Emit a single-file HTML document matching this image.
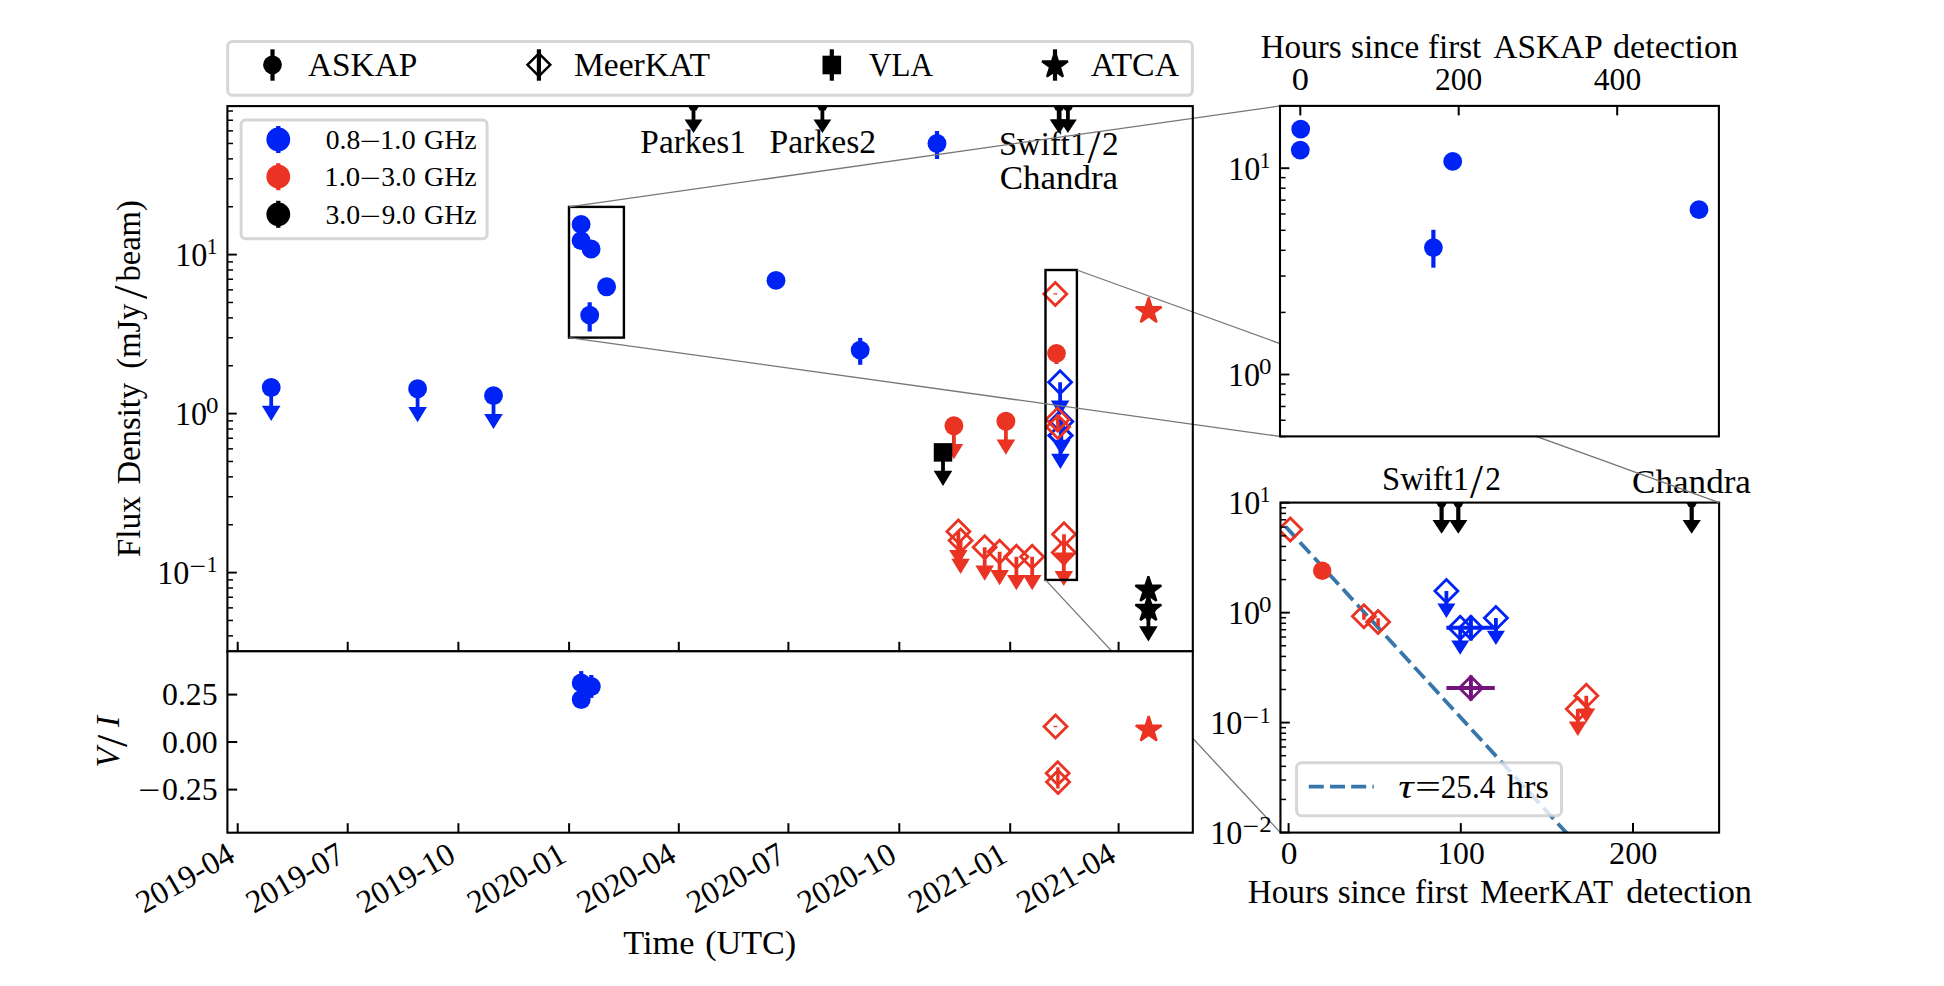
<!DOCTYPE html>
<html lang="en"><head><meta charset="utf-8"><title>Radio light curve</title>
<style>html,body{margin:0;padding:0;background:#fff;overflow:hidden;}svg{display:block;}</style></head>
<body>
<svg width="1944" height="986" viewBox="0 0 1944 986" font-family="'Liberation Serif', 'DejaVu Serif', serif">
<rect x="0" y="0" width="1944" height="986" fill="#ffffff"/>
<g id="main">
<clipPath id="cm"><rect x="227.4" y="106.1" width="965.4" height="545.1999999999999"/></clipPath>
<g clip-path="url(#cm)">
<path d="M688 106.1L699 106.1L696.5 110.6L690.5 110.6Z" fill="#000000"/>
<line x1="693.5" y1="106.1" x2="693.5" y2="120.5" stroke="#000000" stroke-width="3.8" />
<path d="M684.6 119.5L702.4 119.5L693.5 133Z" fill="#000000"/>
<path d="M816.9 106.1L827.9 106.1L825.4 110.6L819.4 110.6Z" fill="#000000"/>
<line x1="822.4" y1="106.1" x2="822.4" y2="120.5" stroke="#000000" stroke-width="3.8" />
<path d="M813.5 119.5L831.3 119.5L822.4 133Z" fill="#000000"/>
<path d="M1053.2 106.1L1064.2 106.1L1061.7 110.6L1055.7 110.6Z" fill="#000000"/>
<line x1="1058.7" y1="106.1" x2="1058.7" y2="120.5" stroke="#000000" stroke-width="3.8" />
<path d="M1049.8 119.5L1067.6 119.5L1058.7 133Z" fill="#000000"/>
<path d="M1054.1 106.1L1065.1 106.1L1062.6 110.6L1056.6 110.6Z" fill="#000000"/>
<line x1="1059.6" y1="106.1" x2="1059.6" y2="120.5" stroke="#000000" stroke-width="3.8" />
<path d="M1050.7 119.5L1068.5 119.5L1059.6 133Z" fill="#000000"/>
<path d="M1062.4 106.1L1073.4 106.1L1070.9 110.6L1064.9 110.6Z" fill="#000000"/>
<line x1="1067.9" y1="106.1" x2="1067.9" y2="120.5" stroke="#000000" stroke-width="3.8" />
<path d="M1059 119.5L1076.8 119.5L1067.9 133Z" fill="#000000"/>
<line x1="271.2" y1="387.5" x2="271.2" y2="406.8" stroke="#0023F5" stroke-width="3.8" />
<path d="M261.9 405.8L280.5 405.8L271.2 421Z" fill="#0023F5"/>
<circle cx="271.2" cy="387.5" r="9.45" fill="#0023F5"/>
<line x1="417.6" y1="388.7" x2="417.6" y2="408" stroke="#0023F5" stroke-width="3.8" />
<path d="M408.3 407L426.9 407L417.6 422.2Z" fill="#0023F5"/>
<circle cx="417.6" cy="388.7" r="9.45" fill="#0023F5"/>
<line x1="493.5" y1="395.6" x2="493.5" y2="414.9" stroke="#0023F5" stroke-width="3.8" />
<path d="M484.2 413.9L502.8 413.9L493.5 429.1Z" fill="#0023F5"/>
<circle cx="493.5" cy="395.6" r="9.45" fill="#0023F5"/>
<line x1="589.7" y1="302.3" x2="589.7" y2="331.5" stroke="#0023F5" stroke-width="4.2" />
<circle cx="581.1" cy="224.4" r="9.45" fill="#0023F5"/>
<circle cx="581.1" cy="240.6" r="9.45" fill="#0023F5"/>
<circle cx="591.1" cy="249" r="9.45" fill="#0023F5"/>
<circle cx="606.6" cy="286.8" r="9.45" fill="#0023F5"/>
<circle cx="589.7" cy="315.1" r="9.45" fill="#0023F5"/>
<circle cx="776" cy="280.4" r="9.45" fill="#0023F5"/>
<line x1="860.2" y1="337.9" x2="860.2" y2="364.8" stroke="#0023F5" stroke-width="4.2" />
<circle cx="860.2" cy="350.1" r="9.45" fill="#0023F5"/>
<line x1="937" y1="130.9" x2="937" y2="159" stroke="#0023F5" stroke-width="4.2" />
<circle cx="937" cy="143.5" r="9.45" fill="#0023F5"/>
<line x1="953.9" y1="425.7" x2="953.9" y2="445" stroke="#EA3323" stroke-width="3.8" />
<path d="M944.6 444L963.2 444L953.9 459.2Z" fill="#EA3323"/>
<circle cx="953.9" cy="425.7" r="9.45" fill="#EA3323"/>
<line x1="1005.9" y1="421.2" x2="1005.9" y2="440.5" stroke="#EA3323" stroke-width="3.8" />
<path d="M996.6 439.5L1015.2 439.5L1005.9 454.7Z" fill="#EA3323"/>
<circle cx="1005.9" cy="421.2" r="9.45" fill="#EA3323"/>
<line x1="943" y1="452.4" x2="943" y2="471.7" stroke="#000000" stroke-width="3.8" />
<path d="M933.7 470.7L952.3 470.7L943 485.9Z" fill="#000000"/>
<rect x="933.75" y="443.15" width="18.5" height="18.5" fill="#000000"/>
<line x1="958.4" y1="531.6" x2="958.4" y2="550.9" stroke="#EA3323" stroke-width="3.8" />
<path d="M949.1 549.9L967.7 549.9L958.4 565.1Z" fill="#EA3323"/>
<path d="M958.4 520.1L969.9 531.6L958.4 543.1L946.9 531.6Z" fill="none" stroke="#EA3323" stroke-width="2.8" stroke-linejoin="miter"/>
<line x1="960.6" y1="540.5" x2="960.6" y2="559.8" stroke="#EA3323" stroke-width="3.8" />
<path d="M951.3 558.8L969.9 558.8L960.6 574Z" fill="#EA3323"/>
<path d="M960.6 529L972.1 540.5L960.6 552L949.1 540.5Z" fill="none" stroke="#EA3323" stroke-width="2.8" stroke-linejoin="miter"/>
<line x1="984.7" y1="547.2" x2="984.7" y2="566.5" stroke="#EA3323" stroke-width="3.8" />
<path d="M975.4 565.5L994 565.5L984.7 580.7Z" fill="#EA3323"/>
<path d="M984.7 535.7L996.2 547.2L984.7 558.7L973.2 547.2Z" fill="none" stroke="#EA3323" stroke-width="2.8" stroke-linejoin="miter"/>
<line x1="999.6" y1="551.7" x2="999.6" y2="571" stroke="#EA3323" stroke-width="3.8" />
<path d="M990.3 570L1008.9 570L999.6 585.2Z" fill="#EA3323"/>
<path d="M999.6 540.2L1011.1 551.7L999.6 563.2L988.1 551.7Z" fill="none" stroke="#EA3323" stroke-width="2.8" stroke-linejoin="miter"/>
<line x1="1016.4" y1="556.8" x2="1016.4" y2="576.1" stroke="#EA3323" stroke-width="3.8" />
<path d="M1007.1 575.1L1025.7 575.1L1016.4 590.3Z" fill="#EA3323"/>
<path d="M1016.4 545.3L1027.9 556.8L1016.4 568.3L1004.9 556.8Z" fill="none" stroke="#EA3323" stroke-width="2.8" stroke-linejoin="miter"/>
<line x1="1032.2" y1="556.8" x2="1032.2" y2="576.1" stroke="#EA3323" stroke-width="3.8" />
<path d="M1022.9 575.1L1041.5 575.1L1032.2 590.3Z" fill="#EA3323"/>
<path d="M1032.2 545.3L1043.7 556.8L1032.2 568.3L1020.7 556.8Z" fill="none" stroke="#EA3323" stroke-width="2.8" stroke-linejoin="miter"/>
<line x1="1064" y1="534.2" x2="1064" y2="553.5" stroke="#EA3323" stroke-width="3.8" />
<path d="M1054.7 552.5L1073.3 552.5L1064 567.7Z" fill="#EA3323"/>
<path d="M1064 522.7L1075.5 534.2L1064 545.7L1052.5 534.2Z" fill="none" stroke="#EA3323" stroke-width="2.8" stroke-linejoin="miter"/>
<line x1="1063.8" y1="552.6" x2="1063.8" y2="571.9" stroke="#EA3323" stroke-width="3.8" />
<path d="M1054.5 570.9L1073.1 570.9L1063.8 586.1Z" fill="#EA3323"/>
<path d="M1063.8 541.1L1075.3 552.6L1063.8 564.1L1052.3 552.6Z" fill="none" stroke="#EA3323" stroke-width="2.8" stroke-linejoin="miter"/>
<path d="M1055.3 282.4L1066.8 293.9L1055.3 305.4L1043.8 293.9Z" fill="none" stroke="#EA3323" stroke-width="2.8" stroke-linejoin="miter"/>
<line x1="1053.5" y1="293.9" x2="1057.3" y2="293.9" stroke="#EA3323" stroke-width="1.3" />
<line x1="1056.5" y1="345" x2="1056.5" y2="363.9" stroke="#EA3323" stroke-width="4.2" />
<circle cx="1056.5" cy="353.3" r="9.35" fill="#EA3323"/>
<line x1="1060.1" y1="382.3" x2="1060.1" y2="401.6" stroke="#0023F5" stroke-width="3.8" />
<path d="M1050.8 400.6L1069.4 400.6L1060.1 415.8Z" fill="#0023F5"/>
<path d="M1060.1 370.8L1071.6 382.3L1060.1 393.8L1048.6 382.3Z" fill="none" stroke="#0023F5" stroke-width="2.8" stroke-linejoin="miter"/>
<line x1="1061.3" y1="421.4" x2="1061.3" y2="440.7" stroke="#0023F5" stroke-width="3.8" />
<path d="M1052 439.7L1070.6 439.7L1061.3 454.9Z" fill="#0023F5"/>
<path d="M1061.3 409.9L1072.8 421.4L1061.3 432.9L1049.8 421.4Z" fill="none" stroke="#0023F5" stroke-width="2.8" stroke-linejoin="miter"/>
<line x1="1060.4" y1="435.4" x2="1060.4" y2="454.7" stroke="#0023F5" stroke-width="3.8" />
<path d="M1051.1 453.7L1069.7 453.7L1060.4 468.9Z" fill="#0023F5"/>
<path d="M1060.4 423.9L1071.9 435.4L1060.4 446.9L1048.9 435.4Z" fill="none" stroke="#0023F5" stroke-width="2.8" stroke-linejoin="miter"/>
<line x1="1060.7" y1="418.5" x2="1060.7" y2="452.5" stroke="#0023F5" stroke-width="3.6" />
<path d="M1060.7 423.9L1072.2 435.4L1060.7 446.9L1049.2 435.4Z" fill="none" stroke="#0023F5" stroke-width="2.8" stroke-linejoin="miter"/>
<line x1="1057.6" y1="414.5" x2="1057.6" y2="424.5" stroke="#EA3323" stroke-width="3.4" />
<path d="M1057.6 407.9L1069.1 419.4L1057.6 430.9L1046.1 419.4Z" fill="none" stroke="#EA3323" stroke-width="2.8" stroke-linejoin="miter"/>
<line x1="1058" y1="422.5" x2="1058" y2="432" stroke="#EA3323" stroke-width="3.4" />
<path d="M1058 415.5L1069.5 427L1058 438.5L1046.5 427Z" fill="none" stroke="#EA3323" stroke-width="2.8" stroke-linejoin="miter"/>
<polygon points="1148.7,297.6 1151.75,307 1161.63,307 1153.64,312.81 1156.69,322.2 1148.7,316.39 1140.71,322.2 1143.76,312.81 1135.77,307 1145.65,307" fill="#EA3323" stroke="#EA3323" stroke-width="2.2" stroke-linejoin="bevel"/>
<line x1="1148.4" y1="589.5" x2="1148.4" y2="608.8" stroke="#000000" stroke-width="3.8" />
<path d="M1139.1 607.8L1157.7 607.8L1148.4 623Z" fill="#000000"/>
<polygon points="1148.4,576.3 1151.45,585.7 1161.33,585.7 1153.34,591.51 1156.39,600.9 1148.4,595.09 1140.41,600.9 1143.46,591.51 1135.47,585.7 1145.35,585.7" fill="#000000" stroke="#000000" stroke-width="2.2" stroke-linejoin="bevel"/>
<line x1="1148.4" y1="608" x2="1148.4" y2="627.3" stroke="#000000" stroke-width="3.8" />
<path d="M1139.1 626.3L1157.7 626.3L1148.4 641.5Z" fill="#000000"/>
<polygon points="1148.4,595.5 1151.45,604.9 1161.33,604.9 1153.34,610.71 1156.39,620.1 1148.4,614.29 1140.41,620.1 1143.46,610.71 1135.47,604.9 1145.35,604.9" fill="#000000" stroke="#000000" stroke-width="2.2" stroke-linejoin="bevel"/>
</g>
<rect x="569" y="206.9" width="54.9" height="130.7" fill="none" stroke="#000000" stroke-width="2.4"/>
<rect x="1045.5" y="270" width="31.4" height="309.9" fill="none" stroke="#000000" stroke-width="2.4"/>
<text x="640.38" y="153.4" font-size="33" textLength="105.55" lengthAdjust="spacingAndGlyphs" fill="#000000">Parkes1</text>
<text x="769.57" y="153.4" font-size="33" textLength="106.51" lengthAdjust="spacingAndGlyphs" fill="#000000">Parkes2</text>
<text font-size="33"><tspan x="998.89" y="154.6" textLength="87.47" lengthAdjust="spacingAndGlyphs">Swift1</tspan><tspan x="1101.99" y="154.6" textLength="16.65" lengthAdjust="spacingAndGlyphs">2</tspan></text>
<text x="1087.5" y="162.5" font-size="47.5" textLength="13.12" lengthAdjust="spacingAndGlyphs" fill="#000000">/</text>
<text x="999.7" y="189" font-size="33" textLength="118.34" lengthAdjust="spacingAndGlyphs" fill="#000000">Chandra</text>
<rect x="241.1" y="120" width="246" height="118.8" rx="4.5" ry="4.5" fill="#ffffff" fill-opacity="0.8" stroke="#cccccc" stroke-opacity="0.8" stroke-width="3"/>
<line x1="278.3" y1="126" x2="278.3" y2="153" stroke="#0023F5" stroke-width="4.3" />
<circle cx="278.3" cy="139.5" r="11.9" fill="#0023F5"/>
<text font-size="26.5"><tspan x="325.77" y="148.6" textLength="34.47" lengthAdjust="spacingAndGlyphs">0.8</tspan><tspan x="380.11" y="148.6" textLength="35.56" lengthAdjust="spacingAndGlyphs">1.0</tspan><tspan x="424.09" y="148.6" textLength="52.6" lengthAdjust="spacingAndGlyphs">GHz</tspan></text>
<text x="359.93" y="149.5" font-size="26.5" textLength="21.1" lengthAdjust="spacingAndGlyphs" fill="#000000">−</text>
<line x1="278.3" y1="163.2" x2="278.3" y2="190.2" stroke="#EA3323" stroke-width="4.3" />
<circle cx="278.3" cy="176.7" r="11.9" fill="#EA3323"/>
<text font-size="26.5"><tspan x="324.28" y="186" textLength="36" lengthAdjust="spacingAndGlyphs">1.0</tspan><tspan x="381.3" y="186" textLength="34.33" lengthAdjust="spacingAndGlyphs">3.0</tspan><tspan x="424.09" y="186" textLength="52.6" lengthAdjust="spacingAndGlyphs">GHz</tspan></text>
<text x="359.93" y="186.9" font-size="26.5" textLength="21.1" lengthAdjust="spacingAndGlyphs" fill="#000000">−</text>
<line x1="278.3" y1="200.8" x2="278.3" y2="227.8" stroke="#000000" stroke-width="4.3" />
<circle cx="278.3" cy="214.3" r="11.9" fill="#000000"/>
<text font-size="26.5"><tspan x="325.48" y="223.6" textLength="34.76" lengthAdjust="spacingAndGlyphs">3.0</tspan><tspan x="381.72" y="223.6" textLength="33.9" lengthAdjust="spacingAndGlyphs">9.0</tspan><tspan x="424.09" y="223.6" textLength="52.6" lengthAdjust="spacingAndGlyphs">GHz</tspan></text>
<text x="359.93" y="224.5" font-size="26.5" textLength="21.1" lengthAdjust="spacingAndGlyphs" fill="#000000">−</text>
</g>
<line x1="569" y1="206.9" x2="1280" y2="105.9" stroke="#767676" stroke-width="1.3" />
<line x1="569" y1="337.6" x2="1280" y2="436.4" stroke="#767676" stroke-width="1.3" />
<line x1="1076.9" y1="270" x2="1600" y2="459.46" stroke="#767676" stroke-width="1.3" />
<line x1="1045.5" y1="579.9" x2="1280.45" y2="832.6" stroke="#767676" stroke-width="1.3" />
<line x1="227.4" y1="635.87" x2="233" y2="635.87" stroke="#000000" stroke-width="1.5" />
<line x1="227.4" y1="620.46" x2="233" y2="620.46" stroke="#000000" stroke-width="1.5" />
<line x1="227.4" y1="607.87" x2="233" y2="607.87" stroke="#000000" stroke-width="1.5" />
<line x1="227.4" y1="597.23" x2="233" y2="597.23" stroke="#000000" stroke-width="1.5" />
<line x1="227.4" y1="588.01" x2="233" y2="588.01" stroke="#000000" stroke-width="1.5" />
<line x1="227.4" y1="579.88" x2="233" y2="579.88" stroke="#000000" stroke-width="1.5" />
<line x1="227.4" y1="572.6" x2="236.8" y2="572.6" stroke="#000000" stroke-width="1.9" />
<line x1="227.4" y1="524.74" x2="233" y2="524.74" stroke="#000000" stroke-width="1.5" />
<line x1="227.4" y1="496.74" x2="233" y2="496.74" stroke="#000000" stroke-width="1.5" />
<line x1="227.4" y1="476.87" x2="233" y2="476.87" stroke="#000000" stroke-width="1.5" />
<line x1="227.4" y1="461.46" x2="233" y2="461.46" stroke="#000000" stroke-width="1.5" />
<line x1="227.4" y1="448.87" x2="233" y2="448.87" stroke="#000000" stroke-width="1.5" />
<line x1="227.4" y1="438.23" x2="233" y2="438.23" stroke="#000000" stroke-width="1.5" />
<line x1="227.4" y1="429.01" x2="233" y2="429.01" stroke="#000000" stroke-width="1.5" />
<line x1="227.4" y1="420.88" x2="233" y2="420.88" stroke="#000000" stroke-width="1.5" />
<line x1="227.4" y1="413.6" x2="236.8" y2="413.6" stroke="#000000" stroke-width="1.9" />
<line x1="227.4" y1="365.74" x2="233" y2="365.74" stroke="#000000" stroke-width="1.5" />
<line x1="227.4" y1="337.74" x2="233" y2="337.74" stroke="#000000" stroke-width="1.5" />
<line x1="227.4" y1="317.87" x2="233" y2="317.87" stroke="#000000" stroke-width="1.5" />
<line x1="227.4" y1="302.46" x2="233" y2="302.46" stroke="#000000" stroke-width="1.5" />
<line x1="227.4" y1="289.87" x2="233" y2="289.87" stroke="#000000" stroke-width="1.5" />
<line x1="227.4" y1="279.23" x2="233" y2="279.23" stroke="#000000" stroke-width="1.5" />
<line x1="227.4" y1="270.01" x2="233" y2="270.01" stroke="#000000" stroke-width="1.5" />
<line x1="227.4" y1="261.88" x2="233" y2="261.88" stroke="#000000" stroke-width="1.5" />
<line x1="227.4" y1="254.6" x2="236.8" y2="254.6" stroke="#000000" stroke-width="1.9" />
<line x1="227.4" y1="206.74" x2="233" y2="206.74" stroke="#000000" stroke-width="1.5" />
<line x1="227.4" y1="178.74" x2="233" y2="178.74" stroke="#000000" stroke-width="1.5" />
<line x1="227.4" y1="158.87" x2="233" y2="158.87" stroke="#000000" stroke-width="1.5" />
<line x1="227.4" y1="143.46" x2="233" y2="143.46" stroke="#000000" stroke-width="1.5" />
<line x1="227.4" y1="130.87" x2="233" y2="130.87" stroke="#000000" stroke-width="1.5" />
<line x1="227.4" y1="120.23" x2="233" y2="120.23" stroke="#000000" stroke-width="1.5" />
<line x1="227.4" y1="111.01" x2="233" y2="111.01" stroke="#000000" stroke-width="1.5" />
<line x1="237.7" y1="651.3" x2="237.7" y2="641.8" stroke="#000000" stroke-width="2" />
<line x1="347.7" y1="651.3" x2="347.7" y2="641.8" stroke="#000000" stroke-width="2" />
<line x1="458.4" y1="651.3" x2="458.4" y2="641.8" stroke="#000000" stroke-width="2" />
<line x1="569.1" y1="651.3" x2="569.1" y2="641.8" stroke="#000000" stroke-width="2" />
<line x1="678.8" y1="651.3" x2="678.8" y2="641.8" stroke="#000000" stroke-width="2" />
<line x1="788.4" y1="651.3" x2="788.4" y2="641.8" stroke="#000000" stroke-width="2" />
<line x1="899.3" y1="651.3" x2="899.3" y2="641.8" stroke="#000000" stroke-width="2" />
<line x1="1010.2" y1="651.3" x2="1010.2" y2="641.8" stroke="#000000" stroke-width="2" />
<line x1="1118.6" y1="651.3" x2="1118.6" y2="641.8" stroke="#000000" stroke-width="2" />
<rect x="227.4" y="106.1" width="965.4" height="545.2" fill="none" stroke="#000000" stroke-width="2.1"/>
<text x="206.81" y="254.3" font-size="23" textLength="10.78" lengthAdjust="spacingAndGlyphs" fill="#000000">1</text>
<text x="175.19" y="266" font-size="33" textLength="32.11" lengthAdjust="spacingAndGlyphs" fill="#000000">10</text>
<text x="205.96" y="413.3" font-size="23" textLength="12.47" lengthAdjust="spacingAndGlyphs" fill="#000000">0</text>
<text x="174.89" y="425" font-size="33" textLength="32.11" lengthAdjust="spacingAndGlyphs" fill="#000000">10</text>
<text x="206.81" y="572.3" font-size="23" textLength="10.78" lengthAdjust="spacingAndGlyphs" fill="#000000">1</text>
<text x="189.53" y="574.3" font-size="23" textLength="16.62" lengthAdjust="spacingAndGlyphs" fill="#000000">−</text>
<text x="157.29" y="584" font-size="33" textLength="32.11" lengthAdjust="spacingAndGlyphs" fill="#000000">10</text>
<text transform="translate(139.7 556.4) rotate(-90)" font-size="33"><tspan x="-0.92" y="0" textLength="61.1" lengthAdjust="spacingAndGlyphs">Flux</tspan><tspan x="71.8" y="0" textLength="101.81" lengthAdjust="spacingAndGlyphs">Density</tspan><tspan x="187.72" y="0" textLength="65.07" lengthAdjust="spacingAndGlyphs">(mJy</tspan><tspan x="274.8" y="0" textLength="81.42" lengthAdjust="spacingAndGlyphs">beam)</tspan></text>
<text transform="translate(139.7 556.4) rotate(-90)" x="257.5" y="7.6" font-size="47.5" textLength="13.52" lengthAdjust="spacingAndGlyphs">/</text>
<g id="lower">
<rect x="227.4" y="651.3" width="965.4" height="181.4" fill="#ffffff" stroke="#000000" stroke-width="2.1"/>
<line x1="237.7" y1="832.7" x2="237.7" y2="823.2" stroke="#000000" stroke-width="2" />
<line x1="347.7" y1="832.7" x2="347.7" y2="823.2" stroke="#000000" stroke-width="2" />
<line x1="458.4" y1="832.7" x2="458.4" y2="823.2" stroke="#000000" stroke-width="2" />
<line x1="569.1" y1="832.7" x2="569.1" y2="823.2" stroke="#000000" stroke-width="2" />
<line x1="678.8" y1="832.7" x2="678.8" y2="823.2" stroke="#000000" stroke-width="2" />
<line x1="788.4" y1="832.7" x2="788.4" y2="823.2" stroke="#000000" stroke-width="2" />
<line x1="899.3" y1="832.7" x2="899.3" y2="823.2" stroke="#000000" stroke-width="2" />
<line x1="1010.2" y1="832.7" x2="1010.2" y2="823.2" stroke="#000000" stroke-width="2" />
<line x1="1118.6" y1="832.7" x2="1118.6" y2="823.2" stroke="#000000" stroke-width="2" />
<line x1="227.4" y1="694.6" x2="237.2" y2="694.6" stroke="#000000" stroke-width="2" />
<line x1="227.4" y1="742" x2="237.2" y2="742" stroke="#000000" stroke-width="2" />
<line x1="227.4" y1="789.6" x2="237.2" y2="789.6" stroke="#000000" stroke-width="2" />
<text x="162.01" y="705.3" font-size="32.5" textLength="55.67" lengthAdjust="spacingAndGlyphs" fill="#000000">0.25</text>
<text x="162.01" y="753" font-size="32.5" textLength="55.58" lengthAdjust="spacingAndGlyphs" fill="#000000">0.00</text>
<text x="162.01" y="800.3" font-size="32.5" textLength="55.67" lengthAdjust="spacingAndGlyphs" fill="#000000">0.25</text>
<text x="137.94" y="801.3" font-size="32.5" textLength="22.07" lengthAdjust="spacingAndGlyphs" fill="#000000">−</text>
<text transform="translate(119.2 766.1) rotate(-90)" font-style="italic" font-size="33"><tspan x="-1.5" textLength="20" lengthAdjust="spacingAndGlyphs">V</tspan><tspan x="19" y="7.5" font-size="44" font-style="normal">/</tspan><tspan x="39" y="0">I</tspan></text>
<line x1="581.2" y1="671.1" x2="581.2" y2="694.7" stroke="#0023F5" stroke-width="4.2" />
<line x1="591.3" y1="675" x2="591.3" y2="697.9" stroke="#0023F5" stroke-width="4.2" />
<circle cx="581.2" cy="682.9" r="9.45" fill="#0023F5"/>
<circle cx="591.3" cy="686.5" r="9.45" fill="#0023F5"/>
<circle cx="581.2" cy="699.5" r="9.45" fill="#0023F5"/>
<path d="M1055.5 715L1067 726.5L1055.5 738L1044 726.5Z" fill="none" stroke="#EA3323" stroke-width="2.8" stroke-linejoin="miter"/>
<line x1="1053.5" y1="726.5" x2="1057.5" y2="726.5" stroke="#EA3323" stroke-width="1.3" />
<line x1="1057.9" y1="767.3" x2="1057.9" y2="788.5" stroke="#EA3323" stroke-width="3.4" />
<path d="M1057.7 761.8L1069.2 773.3L1057.7 784.8L1046.2 773.3Z" fill="none" stroke="#EA3323" stroke-width="2.8" stroke-linejoin="miter"/>
<path d="M1058.1 770.6L1069.6 782.1L1058.1 793.6L1046.6 782.1Z" fill="none" stroke="#EA3323" stroke-width="2.8" stroke-linejoin="miter"/>
<polygon points="1148.7,716.1 1151.75,725.5 1161.63,725.5 1153.64,731.31 1156.69,740.7 1148.7,734.89 1140.71,740.7 1143.76,731.31 1135.77,725.5 1145.65,725.5" fill="#EA3323" stroke="#EA3323" stroke-width="2.2" stroke-linejoin="bevel"/>
<text transform="translate(236.3 860.7) rotate(-30)" x="-106.67" y="0" font-size="32.5" textLength="107.17" lengthAdjust="spacingAndGlyphs">2019-04</text>
<text transform="translate(346.3 860.7) rotate(-30)" x="-106.67" y="0" font-size="32.5" textLength="107.17" lengthAdjust="spacingAndGlyphs">2019-07</text>
<text transform="translate(457 860.7) rotate(-30)" x="-106.67" y="0" font-size="32.5" textLength="107.17" lengthAdjust="spacingAndGlyphs">2019-10</text>
<text transform="translate(567.7 860.7) rotate(-30)" x="-106.67" y="0" font-size="32.5" textLength="107.17" lengthAdjust="spacingAndGlyphs">2020-01</text>
<text transform="translate(677.4 860.7) rotate(-30)" x="-106.67" y="0" font-size="32.5" textLength="107.17" lengthAdjust="spacingAndGlyphs">2020-04</text>
<text transform="translate(787 860.7) rotate(-30)" x="-106.67" y="0" font-size="32.5" textLength="107.17" lengthAdjust="spacingAndGlyphs">2020-07</text>
<text transform="translate(897.9 860.7) rotate(-30)" x="-106.67" y="0" font-size="32.5" textLength="107.17" lengthAdjust="spacingAndGlyphs">2020-10</text>
<text transform="translate(1008.8 860.7) rotate(-30)" x="-106.67" y="0" font-size="32.5" textLength="107.17" lengthAdjust="spacingAndGlyphs">2021-01</text>
<text transform="translate(1117.2 860.7) rotate(-30)" x="-106.67" y="0" font-size="32.5" textLength="107.17" lengthAdjust="spacingAndGlyphs">2021-04</text>
<text font-size="33"><tspan x="623.2" y="954" textLength="71.23" lengthAdjust="spacingAndGlyphs">Time</tspan><tspan x="705.15" y="954" textLength="91.04" lengthAdjust="spacingAndGlyphs">(UTC)</tspan></text>
</g>
<g id="toplegend">
<rect x="227.7" y="41.6" width="964.7" height="53.7" rx="4.8" ry="4.8" fill="#ffffff" fill-opacity="0.8" stroke="#cccccc" stroke-opacity="0.8" stroke-width="3"/>
<line x1="272.5" y1="49.3" x2="272.5" y2="80.7" stroke="#000000" stroke-width="4.2" />
<circle cx="272.5" cy="64.8" r="9.4" fill="#000000"/>
<text x="307.97" y="76.3" font-size="34.2" textLength="109.33" lengthAdjust="spacingAndGlyphs" fill="#000000">ASKAP</text>
<line x1="538.9" y1="49.3" x2="538.9" y2="80.7" stroke="#000000" stroke-width="4.2" />
<path d="M538.9 53.4L550.3 64.8L538.9 76.2L527.5 64.8Z" fill="none" stroke="#000000" stroke-width="2.5" stroke-linejoin="miter"/>
<text x="573.88" y="76.3" font-size="34.2" textLength="136.29" lengthAdjust="spacingAndGlyphs" fill="#000000">MeerKAT</text>
<line x1="831.8" y1="49.3" x2="831.8" y2="80.7" stroke="#000000" stroke-width="4.2" />
<rect x="822.5" y="55.7" width="18.6" height="18.6" fill="#000000"/>
<text x="869.09" y="76.3" font-size="34.2" textLength="63.95" lengthAdjust="spacingAndGlyphs" fill="#000000">VLA</text>
<line x1="1055" y1="49.3" x2="1055" y2="80.7" stroke="#000000" stroke-width="4.2" />
<polygon points="1055,52 1058.05,61.4 1067.93,61.4 1059.94,67.21 1062.99,76.6 1055,70.79 1047.01,76.6 1050.06,67.21 1042.07,61.4 1051.95,61.4" fill="#000000" stroke="#000000" stroke-width="2.2" stroke-linejoin="bevel"/>
<text x="1090.86" y="76.3" font-size="34.2" textLength="88.15" lengthAdjust="spacingAndGlyphs" fill="#000000">ATCA</text>
</g>
<g id="tr">
<rect x="1280" y="105.9" width="438.9" height="330.5" fill="#ffffff" stroke="#000000" stroke-width="2.1"/>
<line x1="1280" y1="436.6" x2="1285.6" y2="436.6" stroke="#000000" stroke-width="1.5" />
<line x1="1280" y1="420.27" x2="1285.6" y2="420.27" stroke="#000000" stroke-width="1.5" />
<line x1="1280" y1="406.46" x2="1285.6" y2="406.46" stroke="#000000" stroke-width="1.5" />
<line x1="1280" y1="394.49" x2="1285.6" y2="394.49" stroke="#000000" stroke-width="1.5" />
<line x1="1280" y1="383.94" x2="1285.6" y2="383.94" stroke="#000000" stroke-width="1.5" />
<line x1="1280" y1="374.5" x2="1289.4" y2="374.5" stroke="#000000" stroke-width="1.9" />
<line x1="1280" y1="312.4" x2="1285.6" y2="312.4" stroke="#000000" stroke-width="1.5" />
<line x1="1280" y1="276.07" x2="1285.6" y2="276.07" stroke="#000000" stroke-width="1.5" />
<line x1="1280" y1="250.3" x2="1285.6" y2="250.3" stroke="#000000" stroke-width="1.5" />
<line x1="1280" y1="230.3" x2="1285.6" y2="230.3" stroke="#000000" stroke-width="1.5" />
<line x1="1280" y1="213.97" x2="1285.6" y2="213.97" stroke="#000000" stroke-width="1.5" />
<line x1="1280" y1="200.16" x2="1285.6" y2="200.16" stroke="#000000" stroke-width="1.5" />
<line x1="1280" y1="188.19" x2="1285.6" y2="188.19" stroke="#000000" stroke-width="1.5" />
<line x1="1280" y1="177.64" x2="1285.6" y2="177.64" stroke="#000000" stroke-width="1.5" />
<line x1="1280" y1="168.2" x2="1289.4" y2="168.2" stroke="#000000" stroke-width="1.9" />
<line x1="1280" y1="106.1" x2="1285.6" y2="106.1" stroke="#000000" stroke-width="1.5" />
<line x1="1300.3" y1="105.9" x2="1300.3" y2="115.4" stroke="#000000" stroke-width="2" />
<line x1="1458.7" y1="105.9" x2="1458.7" y2="115.4" stroke="#000000" stroke-width="2" />
<line x1="1617.2" y1="105.9" x2="1617.2" y2="115.4" stroke="#000000" stroke-width="2" />
<text font-size="33"><tspan x="1260.69" y="57.8" textLength="81.03" lengthAdjust="spacingAndGlyphs">Hours</tspan><tspan x="1350.97" y="57.8" textLength="68.18" lengthAdjust="spacingAndGlyphs">since</tspan><tspan x="1428.01" y="57.8" textLength="53.19" lengthAdjust="spacingAndGlyphs">first</tspan><tspan x="1493.37" y="57.8" textLength="109.33" lengthAdjust="spacingAndGlyphs">ASKAP</tspan><tspan x="1612.9" y="57.8" textLength="125.31" lengthAdjust="spacingAndGlyphs">detection</tspan></text>
<text x="1291.71" y="90.3" font-size="32.5" textLength="17.18" lengthAdjust="spacingAndGlyphs" fill="#000000">0</text>
<text x="1434.96" y="90.3" font-size="32.5" textLength="47.22" lengthAdjust="spacingAndGlyphs" fill="#000000">200</text>
<text x="1593.77" y="90.3" font-size="32.5" textLength="47.42" lengthAdjust="spacingAndGlyphs" fill="#000000">400</text>
<text x="1259.81" y="167.9" font-size="23" textLength="10.78" lengthAdjust="spacingAndGlyphs" fill="#000000">1</text>
<text x="1228.19" y="179.6" font-size="33" textLength="32.11" lengthAdjust="spacingAndGlyphs" fill="#000000">10</text>
<text x="1258.96" y="374.2" font-size="23" textLength="12.47" lengthAdjust="spacingAndGlyphs" fill="#000000">0</text>
<text x="1227.89" y="385.9" font-size="33" textLength="32.11" lengthAdjust="spacingAndGlyphs" fill="#000000">10</text>
<line x1="1433.4" y1="229.8" x2="1433.4" y2="267.7" stroke="#0023F5" stroke-width="4.2" />
<circle cx="1300.7" cy="129.1" r="9.4" fill="#0023F5"/>
<circle cx="1300.3" cy="150.1" r="9.4" fill="#0023F5"/>
<circle cx="1452.7" cy="161.4" r="9.4" fill="#0023F5"/>
<circle cx="1433.4" cy="247.6" r="9.4" fill="#0023F5"/>
<circle cx="1699" cy="209.7" r="9.4" fill="#0023F5"/>
</g>
<g id="lr">
<rect x="1280.45" y="502.6" width="438.65" height="330" fill="#ffffff"/>
<clipPath id="cr"><rect x="1280.45" y="502.6" width="438.64999999999986" height="330.0"/></clipPath>
<g clip-path="url(#cr)">
<line x1="1285.57" y1="526.57" x2="1580" y2="847.62" stroke="#3776AB" stroke-width="3.8" stroke-dasharray="15 6.2"/>
<path d="M1436.1 502.6L1447.1 502.6L1444.6 507.1L1438.6 507.1Z" fill="#000000"/>
<line x1="1441.6" y1="502.6" x2="1441.6" y2="521" stroke="#000000" stroke-width="4.2" />
<path d="M1432.5 520L1450.7 520L1441.6 533.8Z" fill="#000000"/>
<path d="M1452.8 502.6L1463.8 502.6L1461.3 507.1L1455.3 507.1Z" fill="#000000"/>
<line x1="1458.3" y1="502.6" x2="1458.3" y2="521" stroke="#000000" stroke-width="4.2" />
<path d="M1449.2 520L1467.4 520L1458.3 533.8Z" fill="#000000"/>
<path d="M1686.2 502.6L1697.2 502.6L1694.7 507.1L1688.7 507.1Z" fill="#000000"/>
<line x1="1691.7" y1="502.6" x2="1691.7" y2="521" stroke="#000000" stroke-width="4.2" />
<path d="M1682.6 520L1700.8 520L1691.7 533.8Z" fill="#000000"/>
<path d="M1290.3 518L1301.8 529.5L1290.3 541L1278.8 529.5Z" fill="none" stroke="#EA3323" stroke-width="2.8" stroke-linejoin="miter"/>
<circle cx="1322.2" cy="570.7" r="9.25" fill="#EA3323"/>
<line x1="1363.9" y1="613.3" x2="1363.9" y2="619.8" stroke="#EA3323" stroke-width="3.5" />
<path d="M1363.9 604.8L1375.4 616.3L1363.9 627.8L1352.4 616.3Z" fill="none" stroke="#EA3323" stroke-width="2.8" stroke-linejoin="miter"/>
<line x1="1378.1" y1="618.2" x2="1378.1" y2="626.2" stroke="#EA3323" stroke-width="3.5" />
<path d="M1378.1 610.5L1389.6 622L1378.1 633.5L1366.6 622Z" fill="none" stroke="#EA3323" stroke-width="2.8" stroke-linejoin="miter"/>
<line x1="1446.4" y1="590.9" x2="1446.4" y2="604.6" stroke="#0023F5" stroke-width="3.8" />
<path d="M1437.4 603.6L1455.4 603.6L1446.4 617.9Z" fill="#0023F5"/>
<path d="M1446.4 579.4L1457.9 590.9L1446.4 602.4L1434.9 590.9Z" fill="none" stroke="#0023F5" stroke-width="2.8" stroke-linejoin="miter"/>
<line x1="1460.2" y1="627.7" x2="1460.2" y2="641.4" stroke="#0023F5" stroke-width="3.8" />
<path d="M1451.2 640.4L1469.2 640.4L1460.2 654.7Z" fill="#0023F5"/>
<path d="M1460.2 616.2L1471.7 627.7L1460.2 639.2L1448.7 627.7Z" fill="none" stroke="#0023F5" stroke-width="2.8" stroke-linejoin="miter"/>
<line x1="1446.4" y1="627.7" x2="1495.9" y2="627.7" stroke="#0023F5" stroke-width="4" />
<line x1="1470.9" y1="615.8" x2="1470.9" y2="640.4" stroke="#0023F5" stroke-width="4" />
<path d="M1470.9 616.2L1482.4 627.7L1470.9 639.2L1459.4 627.7Z" fill="none" stroke="#0023F5" stroke-width="2.8" stroke-linejoin="miter"/>
<line x1="1495.9" y1="618.1" x2="1495.9" y2="631.8" stroke="#0023F5" stroke-width="3.8" />
<path d="M1486.9 630.8L1504.9 630.8L1495.9 645.1Z" fill="#0023F5"/>
<path d="M1495.9 606.6L1507.4 618.1L1495.9 629.6L1484.4 618.1Z" fill="none" stroke="#0023F5" stroke-width="2.8" stroke-linejoin="miter"/>
<line x1="1446.4" y1="687.9" x2="1494.8" y2="687.9" stroke="#75147C" stroke-width="4" />
<line x1="1470.9" y1="675.6" x2="1470.9" y2="700.6" stroke="#75147C" stroke-width="4" />
<path d="M1470.9 676.4L1482.4 687.9L1470.9 699.4L1459.4 687.9Z" fill="none" stroke="#75147C" stroke-width="2.8" stroke-linejoin="miter"/>
<line x1="1586.3" y1="695.7" x2="1586.3" y2="709.4" stroke="#EA3323" stroke-width="3.8" />
<path d="M1577.3 708.4L1595.3 708.4L1586.3 722.7Z" fill="#EA3323"/>
<path d="M1586.3 684.2L1597.8 695.7L1586.3 707.2L1574.8 695.7Z" fill="none" stroke="#EA3323" stroke-width="2.8" stroke-linejoin="miter"/>
<line x1="1577.8" y1="708.9" x2="1577.8" y2="722.6" stroke="#EA3323" stroke-width="3.8" />
<path d="M1568.8 721.6L1586.8 721.6L1577.8 735.9Z" fill="#EA3323"/>
<path d="M1577.8 697.4L1589.3 708.9L1577.8 720.4L1566.3 708.9Z" fill="none" stroke="#EA3323" stroke-width="2.8" stroke-linejoin="miter"/>
</g>
<rect x="1296.6" y="762.7" width="264.9" height="53" rx="5" ry="5" fill="#ffffff" fill-opacity="0.8" stroke="#cccccc" stroke-opacity="0.8" stroke-width="3"/>
<line x1="1308.8" y1="786.6" x2="1373.8" y2="786.6" stroke="#3776AB" stroke-width="3.8" stroke-dasharray="15 6.2"/>
<text font-size="33"><tspan x="1398.33" y="797.6" textLength="15.4" lengthAdjust="spacingAndGlyphs" font-style="italic">τ</tspan><tspan x="1415.1" y="797.6" textLength="25.96" lengthAdjust="spacingAndGlyphs">=</tspan><tspan x="1440.78" y="797.6" textLength="54.49" lengthAdjust="spacingAndGlyphs">25.4</tspan><tspan x="1506.86" y="797.6" textLength="41.92" lengthAdjust="spacingAndGlyphs">hrs</tspan></text>
<line x1="1280.45" y1="832.52" x2="1289.85" y2="832.52" stroke="#000000" stroke-width="1.9" />
<line x1="1280.45" y1="799.43" x2="1286.05" y2="799.43" stroke="#000000" stroke-width="1.5" />
<line x1="1280.45" y1="780.07" x2="1286.05" y2="780.07" stroke="#000000" stroke-width="1.5" />
<line x1="1280.45" y1="766.34" x2="1286.05" y2="766.34" stroke="#000000" stroke-width="1.5" />
<line x1="1280.45" y1="755.68" x2="1286.05" y2="755.68" stroke="#000000" stroke-width="1.5" />
<line x1="1280.45" y1="746.98" x2="1286.05" y2="746.98" stroke="#000000" stroke-width="1.5" />
<line x1="1280.45" y1="739.62" x2="1286.05" y2="739.62" stroke="#000000" stroke-width="1.5" />
<line x1="1280.45" y1="733.24" x2="1286.05" y2="733.24" stroke="#000000" stroke-width="1.5" />
<line x1="1280.45" y1="727.62" x2="1286.05" y2="727.62" stroke="#000000" stroke-width="1.5" />
<line x1="1280.45" y1="722.59" x2="1289.85" y2="722.59" stroke="#000000" stroke-width="1.9" />
<line x1="1280.45" y1="689.5" x2="1286.05" y2="689.5" stroke="#000000" stroke-width="1.5" />
<line x1="1280.45" y1="670.14" x2="1286.05" y2="670.14" stroke="#000000" stroke-width="1.5" />
<line x1="1280.45" y1="656.41" x2="1286.05" y2="656.41" stroke="#000000" stroke-width="1.5" />
<line x1="1280.45" y1="645.75" x2="1286.05" y2="645.75" stroke="#000000" stroke-width="1.5" />
<line x1="1280.45" y1="637.05" x2="1286.05" y2="637.05" stroke="#000000" stroke-width="1.5" />
<line x1="1280.45" y1="629.69" x2="1286.05" y2="629.69" stroke="#000000" stroke-width="1.5" />
<line x1="1280.45" y1="623.31" x2="1286.05" y2="623.31" stroke="#000000" stroke-width="1.5" />
<line x1="1280.45" y1="617.69" x2="1286.05" y2="617.69" stroke="#000000" stroke-width="1.5" />
<line x1="1280.45" y1="612.66" x2="1289.85" y2="612.66" stroke="#000000" stroke-width="1.9" />
<line x1="1280.45" y1="579.57" x2="1286.05" y2="579.57" stroke="#000000" stroke-width="1.5" />
<line x1="1280.45" y1="560.21" x2="1286.05" y2="560.21" stroke="#000000" stroke-width="1.5" />
<line x1="1280.45" y1="546.48" x2="1286.05" y2="546.48" stroke="#000000" stroke-width="1.5" />
<line x1="1280.45" y1="535.82" x2="1286.05" y2="535.82" stroke="#000000" stroke-width="1.5" />
<line x1="1280.45" y1="527.12" x2="1286.05" y2="527.12" stroke="#000000" stroke-width="1.5" />
<line x1="1280.45" y1="519.76" x2="1286.05" y2="519.76" stroke="#000000" stroke-width="1.5" />
<line x1="1280.45" y1="513.38" x2="1286.05" y2="513.38" stroke="#000000" stroke-width="1.5" />
<line x1="1280.45" y1="507.76" x2="1286.05" y2="507.76" stroke="#000000" stroke-width="1.5" />
<line x1="1280.45" y1="502.73" x2="1289.85" y2="502.73" stroke="#000000" stroke-width="1.9" />
<line x1="1288.6" y1="832.6" x2="1288.6" y2="823.1" stroke="#000000" stroke-width="2" />
<line x1="1460.8" y1="832.6" x2="1460.8" y2="823.1" stroke="#000000" stroke-width="2" />
<line x1="1633" y1="832.6" x2="1633" y2="823.1" stroke="#000000" stroke-width="2" />
<rect x="1280.45" y="502.6" width="438.65" height="330" fill="none" stroke="#000000" stroke-width="2.1"/>
<text x="1259.81" y="502.4" font-size="23" textLength="10.78" lengthAdjust="spacingAndGlyphs" fill="#000000">1</text>
<text x="1228.19" y="514.1" font-size="33" textLength="32.11" lengthAdjust="spacingAndGlyphs" fill="#000000">10</text>
<text x="1258.96" y="612.4" font-size="23" textLength="12.47" lengthAdjust="spacingAndGlyphs" fill="#000000">0</text>
<text x="1227.89" y="624.1" font-size="33" textLength="32.11" lengthAdjust="spacingAndGlyphs" fill="#000000">10</text>
<text x="1259.81" y="722.6" font-size="23" textLength="10.78" lengthAdjust="spacingAndGlyphs" fill="#000000">1</text>
<text x="1242.53" y="724.6" font-size="23" textLength="16.62" lengthAdjust="spacingAndGlyphs" fill="#000000">−</text>
<text x="1210.29" y="734.3" font-size="33" textLength="32.11" lengthAdjust="spacingAndGlyphs" fill="#000000">10</text>
<text x="1259.24" y="832.2" font-size="23" textLength="12.42" lengthAdjust="spacingAndGlyphs" fill="#000000">2</text>
<text x="1242.53" y="834.2" font-size="23" textLength="16.62" lengthAdjust="spacingAndGlyphs" fill="#000000">−</text>
<text x="1210.29" y="843.9" font-size="33" textLength="32.11" lengthAdjust="spacingAndGlyphs" fill="#000000">10</text>
<text x="1280.75" y="864.1" font-size="32.5" textLength="16.71" lengthAdjust="spacingAndGlyphs" fill="#000000">0</text>
<text x="1437.23" y="864.1" font-size="32.5" textLength="47.56" lengthAdjust="spacingAndGlyphs" fill="#000000">100</text>
<text x="1609.03" y="864.1" font-size="32.5" textLength="48.38" lengthAdjust="spacingAndGlyphs" fill="#000000">200</text>
<text font-size="33"><tspan x="1247.69" y="903.1" textLength="81.24" lengthAdjust="spacingAndGlyphs">Hours</tspan><tspan x="1337.68" y="903.1" textLength="67.97" lengthAdjust="spacingAndGlyphs">since</tspan><tspan x="1415.01" y="903.1" textLength="53.08" lengthAdjust="spacingAndGlyphs">first</tspan><tspan x="1479.9" y="903.1" textLength="133.06" lengthAdjust="spacingAndGlyphs">MeerKAT</tspan><tspan x="1626.2" y="903.1" textLength="125.82" lengthAdjust="spacingAndGlyphs">detection</tspan></text>
<text font-size="33"><tspan x="1382" y="489.6" textLength="86.94" lengthAdjust="spacingAndGlyphs">Swift1</tspan><tspan x="1485.17" y="489.6" textLength="15.65" lengthAdjust="spacingAndGlyphs">2</tspan></text>
<text x="1470.1" y="497.7" font-size="47.5" textLength="12.92" lengthAdjust="spacingAndGlyphs" fill="#000000">/</text>
<text x="1632.1" y="492.7" font-size="33" textLength="118.85" lengthAdjust="spacingAndGlyphs" fill="#000000">Chandra</text>
</g>
<line x1="1600" y1="459.46" x2="1719.1" y2="502.6" stroke="#767676" stroke-width="1.3" />
</svg>
</body></html>
